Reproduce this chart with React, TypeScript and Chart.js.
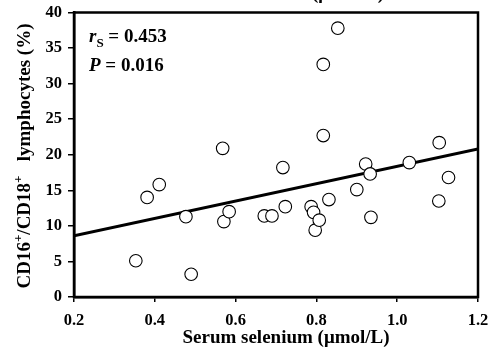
import React, { useEffect, useRef } from "react";
import { Chart, registerables } from "chart.js";

Chart.register(...registerables);

const seleniumValues = [0.353, 0.381, 0.411, 0.477, 0.49, 0.568, 0.571, 0.584, 0.671, 0.69, 0.717, 0.723, 0.787, 0.793, 0.797, 0.807, 0.817, 0.817, 0.831, 0.853, 0.9, 0.922, 0.933, 0.935, 1.03, 1.103, 1.104, 1.127];
const lymphocyteValues = [5.1, 14.0, 15.8, 11.3, 3.2, 20.9, 10.6, 12.0, 11.4, 11.4, 18.2, 12.7, 12.7, 11.9, 9.4, 10.8, 22.7, 32.7, 13.7, 37.8, 15.1, 18.7, 17.3, 11.2, 18.9, 13.5, 21.7, 16.8];
const fitX = [0.2, 1.2];
const fitY = [8.6, 20.8];
const xTicks = { min: 0.2, max: 1.2, step: 0.2 };
const yTicks = { min: 0, max: 40, step: 5 };
const statR = "0.453";
const statP = "0.016";
const xTitle = "Serum selenium (\u03bcmol/L)";

const SERIF = "'Liberation Serif', 'Times New Roman', serif";

type Run = { text: string; font: string; dy: number };

function runsWidth(ctx: CanvasRenderingContext2D, runs: Run[]) {
  let w = 0;
  for (const r of runs) {
    ctx.font = r.font;
    w += ctx.measureText(r.text).width;
  }
  return w;
}

function drawRuns(ctx: CanvasRenderingContext2D, runs: Run[], x: number, y: number) {
  let cx = x;
  ctx.textAlign = "left";
  ctx.textBaseline = "alphabetic";
  for (const r of runs) {
    ctx.font = r.font;
    ctx.fillText(r.text, cx, y + r.dy);
    cx += ctx.measureText(r.text).width;
  }
}

const decorPlugin = {
  id: "decor",
  afterDraw(chart: any) {
    const ctx: CanvasRenderingContext2D = chart.ctx;
    const a = chart.chartArea;
    ctx.save();
    ctx.fillStyle = "#000";
    ctx.strokeStyle = "#000";
    ctx.lineWidth = 2.5;
    ctx.strokeRect(a.left, a.top, a.right - a.left, a.bottom - a.top);

    const big = `bold 19px ${SERIF}`;
    const bigI = `italic bold 19px ${SERIF}`;
    const sub = `bold 13px ${SERIF}`;
    drawRuns(ctx, [
      { text: "r", font: bigI, dy: 0 },
      { text: "S", font: sub, dy: 5 },
      { text: " = " + statR, font: big, dy: 0 },
    ], a.left + 15, 42);
    drawRuns(ctx, [
      { text: "P", font: bigI, dy: 0 },
      { text: " = " + statP, font: big, dy: 0 },
    ], a.left + 15, 71);

    const tf = `bold 19px ${SERIF}`;
    ctx.font = tf;
    ctx.textAlign = "center";
    ctx.textBaseline = "alphabetic";
    ctx.fillText(xTitle, (a.left + a.right) / 2 + 10, 343);

    ctx.textAlign = "left";
    ctx.fillText("(\u03bcmol/L)", 312, -1);

    const yf = `bold 19px ${SERIF}`;
    const ys = `bold 13px ${SERIF}`;
    const yRuns: Run[] = [
      { text: "CD16", font: yf, dy: 0 },
      { text: "+", font: ys, dy: -8 },
      { text: "/CD18", font: yf, dy: 0 },
      { text: "+", font: ys, dy: -8 },
      { text: "   lymphocytes (%)", font: yf, dy: 0 },
    ];
    const w = runsWidth(ctx, yRuns);
    ctx.translate(29.5, 156);
    ctx.rotate(-Math.PI / 2);
    drawRuns(ctx, yRuns, -w / 2, 0);
    ctx.restore();
  },
};

export default function App() {
  const ref = useRef<HTMLCanvasElement>(null);
  useEffect(() => {
    document.body.style.margin = "0";
    const canvas = ref.current!;
    const chart = new Chart(canvas, {
      type: "scatter",
      data: {
        datasets: [
          {
            type: "line",
            data: fitX.map((x, i) => ({ x, y: fitY[i] })),
            borderColor: "#000",
            borderWidth: 3,
            pointRadius: 0,
            fill: false,
            order: 2,
          } as any,
          {
            type: "scatter",
            data: seleniumValues.map((x, i) => ({ x, y: lymphocyteValues[i] })),
            pointRadius: 6.3,
            pointBackgroundColor: "#fff",
            pointBorderColor: "#000",
            pointBorderWidth: 1.1,
            order: 1,
          },
        ],
      },
      options: {
        responsive: false,
        animation: false,
        layout: { padding: { left: 0, top: 12.5, right: 12, bottom: 0 } },
        plugins: { legend: { display: false }, tooltip: { enabled: false }, title: { display: false } },
        scales: {
          x: {
            type: "linear",
            min: xTicks.min,
            max: xTicks.max,
            afterFit: (s: any) => { s.height = 50; s.paddingLeft = 0; s.paddingRight = 0; },
            ticks: {
              stepSize: xTicks.step,
              color: "#000",
              padding: 9,
              font: { family: SERIF, size: 16.5, weight: "bold" },
              callback: (v: any) => Number(v).toFixed(1),
            },
            grid: { display: true, drawOnChartArea: false, drawTicks: true, tickLength: 5, color: "#000", lineWidth: 1.5 },
            border: { display: true, color: "#000", width: 2.5 },
          },
          y: {
            type: "linear",
            min: yTicks.min,
            max: yTicks.max,
            afterFit: (s: any) => { s.width = 74; s.paddingTop = 0; s.paddingBottom = 0; },
            ticks: {
              stepSize: yTicks.step,
              color: "#000",
              padding: 6,
              font: { family: SERIF, size: 16.5, weight: "bold" },
            },
            grid: { display: true, drawOnChartArea: false, drawTicks: true, tickLength: 6, color: "#000", lineWidth: 1.5 },
            border: { display: true, color: "#000", width: 2.5 },
          },
        },
      } as any,
      plugins: [decorPlugin],
    });
    return () => chart.destroy();
  }, []);
  return (
    <div style={{ width: 490, height: 347, background: "#fff" }}>
      <canvas ref={ref} width={490} height={347} style={{ display: "block" }} />
    </div>
  );
}
